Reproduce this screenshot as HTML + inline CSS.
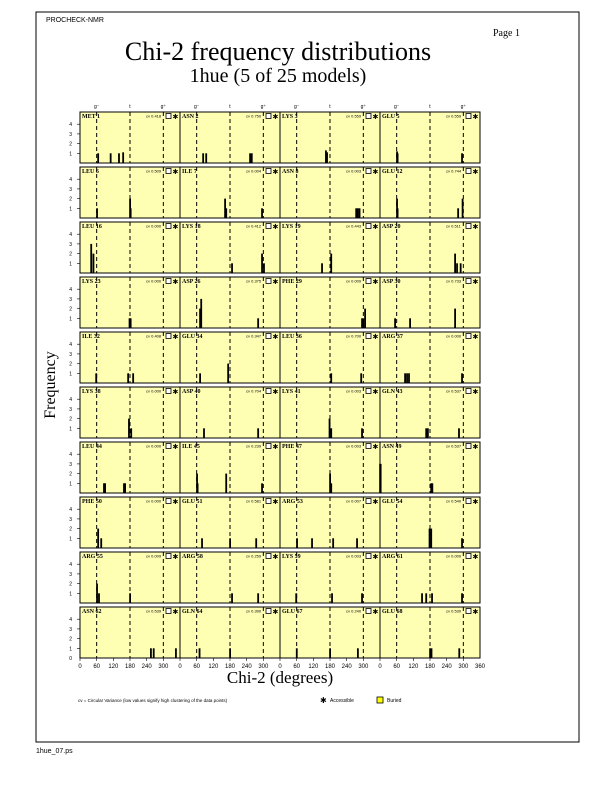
<!DOCTYPE html>
<html><head><meta charset="utf-8"><style>
html,body{margin:0;padding:0;background:#fff;}
svg{display:block;}
</style></head><body>
<svg id="s" width="612" height="792" xmlns="http://www.w3.org/2000/svg" font-family="Liberation Serif, serif">
<rect x="36" y="12" width="543" height="730" fill="none" stroke="#000" stroke-width="1"/>
<text x="46" y="22" font-size="7" font-family="Liberation Sans, sans-serif">PROCHECK-NMR</text>
<text x="493" y="36" font-size="10">Page  1</text>
<text x="278" y="60" font-size="26" text-anchor="middle">Chi-2 frequency distributions</text>
<text x="278" y="82" font-size="20" text-anchor="middle">1hue (5 of 25 models)</text>
<text transform="translate(55,385) rotate(-90)" font-size="16" text-anchor="middle">Frequency</text>
<text x="280" y="683" font-size="17" text-anchor="middle">Chi-2 (degrees)</text>
<text x="78" y="702" font-size="4.5" font-family="Liberation Sans, sans-serif">cv = Circular Variance (low values signify high clustering of the data points)</text>
<text x="320" y="703" font-size="8" font-family="Liberation Sans, sans-serif">✱</text>
<text x="330" y="702" font-size="5" font-family="Liberation Sans, sans-serif">Accessible</text>
<rect x="377" y="697" width="6" height="6" fill="#ff0" stroke="#000" stroke-width="0.8"/>
<text x="387" y="702" font-size="5" font-family="Liberation Sans, sans-serif">Buried</text>
<text x="36" y="753" font-size="7" font-family="Liberation Sans, sans-serif">1hue_07.ps</text>
<g id="g"></g>
</svg>
<script>
(function(){
var names=[["MET 1","ASN 2","LYS 3","GLU 5"],["LEU 6","ILE 7","ASN 8","GLU 12"],["LEU 16","LYS 18","LYS 19","ASP 20"],["LYS 23","ASP 26","PHE 29","ASP 30"],["ILE 32","GLU 34","LEU 36","ARG 37"],["LYS 38","ASP 40","LYS 41","GLN 43"],["LEU 44","ILE 45","PHE 47","ASN 49"],["PHE 50","GLU 51","ARG 53","GLU 54"],["ARG 55","ARG 58","LYS 59","ARG 61"],["ASN 62","GLN 64","GLU 67","GLU 68"]];
var bars=[
[[[65,1],[110,1],[140,1],[155,1.1]],[[83,1],[94,1],[252,1],[258,1]],[[165,1.3],[169,1.1]],[[61,1.2],[63,1],[295,1]]],
[[[61,1],[180,2],[182,1]],[[162,2],[166,1],[295,1]],[[274,1],[280,1],[286,1]],[[61,2],[63,1],[281,1],[297,2]]],
[[[40,3],[48,2]],[[187,1],[295,2],[302,1]],[[151,1],[184,2]],[[270,2],[277,1],[290,1]]],
[[[178,1],[182,1]],[[72,2],[76,3],[281,1]],[[295,1],[300,1],[306,2]],[[54,1],[108,1],[270,2]]],
[[[58,1],[173,1],[191,1]],[[72,1],[173,2]],[[184,1],[292,1]],[[90,1],[97,1],[104,1],[295,1]]],
[[[176,2],[184,1]],[[86,1],[281,1]],[[178,2],[184,1],[295,1]],[[166,1],[172,1],[284,1]]],
[[[86,1],[90,1],[158,1],[162,1]],[[61,2],[63,1],[166,2],[295,1]],[[180,2],[184,1]],[[0,3],[2,3],[184,1],[188,1]]],
[[[65,2],[76,1]],[[79,1],[180,1],[274,1]],[[61,1],[115,1],[191,1],[277,1]],[[178,2],[184,2],[295,1]]],
[[[61,2],[68,1],[180,1]],[[187,1],[281,1]],[[58,1],[187,1],[295,1]],[[151,1],[166,1],[187,1],[295,1]]],
[[[255,1],[265,1],[345,1]],[[70,1],[180,1]],[[60,1],[180,1],[280,1]],[[180,1],[185,1],[285,1]]]
];
var cvs=["0.418","0.750","0.559","0.559","0.509","0.004","0.003","0.744","0.000","0.412","0.443","0.511","0.000","0.375","0.009","0.733","0.408","0.347","0.700","0.000","0.000","0.704","0.003","0.537","0.000","0.239","0.003","0.537","0.000","0.581","0.007","0.540","0.009","0.259","0.003","0.000","0.539","0.390","0.240","0.530"];
var h='';
var c0=80,w=100,t0=112,pitch=55,ph=51,u=9.7;
for(var r=0;r<10;r++){
 var ty=t0+r*pitch,bot=ty+ph;
 h+='<rect x="80" y="'+ty+'" width="400" height="'+ph+'" fill="#ffffb4" stroke="#000" stroke-width="1"/>';
 for(var k=1;k<=4;k++){var yy=bot-k*u;h+='<text x="72" y="'+(yy+2)+'" font-size="5" font-family="Liberation Sans, sans-serif" text-anchor="end">'+k+'</text><line x1="77" x2="80" y1="'+yy+'" y2="'+yy+'" stroke="#000" stroke-width="0.6"/>';}
 for(var c=0;c<4;c++){
  var x0=c0+c*w;
  if(c>0)h+='<line x1="'+x0+'" x2="'+x0+'" y1="'+ty+'" y2="'+bot+'" stroke="#000" stroke-width="1"/>';
  [60,180,300].forEach(function(d){var xx=x0+d/360*w;h+='<line x1="'+xx+'" x2="'+xx+'" y1="'+ty+'" y2="'+bot+'" stroke="#000" stroke-width="1" stroke-dasharray="4,3"/>';});
  bars[r][c].forEach(function(b){var xx=x0+b[0]/360*w;h+='<rect x="'+(xx-0.8)+'" y="'+(bot-b[1]*u)+'" width="1.8" height="'+(b[1]*u)+'" fill="#000"/>';});
  h+='<text x="'+(x0+2)+'" y="'+(ty+6)+'" font-size="6" font-weight="bold">'+names[r][c]+'</text>';
  h+='<text x="'+(x0+66)+'" y="'+(ty+5.5)+'" font-size="4" font-family="Liberation Sans, sans-serif">cv '+cvs[r*4+c]+'</text>';
  h+='<rect x="'+(x0+86)+'" y="'+(ty+1.5)+'" width="5" height="5" fill="#fff" stroke="#000" stroke-width="0.8"/>';
  h+='<text x="'+(x0+92.5)+'" y="'+(ty+7)+'" font-size="7" font-family="DejaVu Sans, sans-serif">✱</text>';
  if(r==0){['g⁻','t','g⁺'].forEach(function(s,i){var xx=x0+[60,180,300][i]/360*w;h+='<text x="'+xx+'" y="'+(ty-4)+'" font-size="5" text-anchor="middle" font-family="Liberation Sans, sans-serif">'+s+'</text>';});}
  if(r==9){[0,60,120,180,240,300].forEach(function(d){var xx=x0+d/360*w;h+='<line x1="'+xx+'" x2="'+xx+'" y1="'+bot+'" y2="'+(bot+3)+'" stroke="#000" stroke-width="0.6"/><text x="'+xx+'" y="'+(bot+10)+'" font-size="6" text-anchor="middle" font-family="Liberation Sans, sans-serif">'+d+'</text>';});}
 }
 if(r==9){h+='<text x="72" y="'+(bot+2)+'" font-size="5" font-family="Liberation Sans, sans-serif" text-anchor="end">0</text><text x="480" y="'+(bot+10)+'" font-size="6" text-anchor="middle" font-family="Liberation Sans, sans-serif">360</text>';}
}
document.getElementById('g').innerHTML=h;
})();
</script>
</body></html>
